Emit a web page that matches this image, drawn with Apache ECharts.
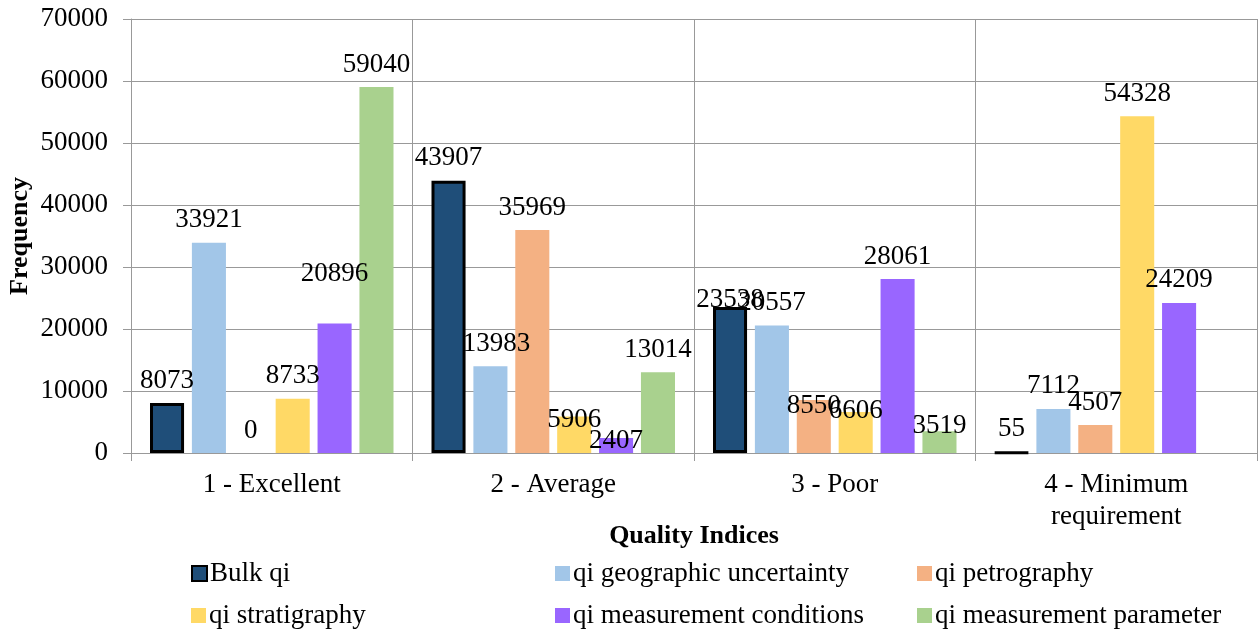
<!DOCTYPE html>
<html><head><meta charset="utf-8">
<script src="https://cdn.jsdelivr.net/npm/echarts@6/dist/echarts.min.js"></script>
<style>html,body{margin:0;padding:0;background:#fff}#c{width:1258px;height:633px}</style>
</head><body><div id="c"></div>
<script>
const categories = ['1 - Excellent', '2 - Average', '3 - Poor', '4 - Minimum\nrequirement'];
const seriesNames = ['Bulk qi', 'qi geographic uncertainty', 'qi petrography', 'qi stratigraphy', 'qi measurement conditions', 'qi measurement parameter'];
const bulkQi = [8073, 43907, 23538, 55];
const geoUncertainty = [33921, 13983, 20557, 7112];
const petrography = [0, 35969, 8550, 4507];
const stratigraphy = [8733, 5906, 6606, 54328];
const measConditions = [20896, 2407, 28061, 24209];
const measParameter = [59040, 13014, 3519, null];
const yTicks = [0, 10000, 20000, 30000, 40000, 50000, 60000, 70000];

const colors = ['#1F4E79', '#A2C6E8', '#F4B183', '#FFD966', '#9966FF', '#A9D18E'];
const values = [bulkQi, geoUncertainty, petrography, stratigraphy, measConditions, measParameter];
// label nudges (layout only) to mimic the reference's collision-avoided labels; key = series-category
const labelNudge = {
  '0-2': [0, 15], '1-1': [6, 0], '2-2': [0, 28], '3-1': [0, 26], '3-2': [0, 21],
  '4-0': [0, -27], '4-1': [0, 25], '5-2': [0, 17]
};
const font = 'Liberation Serif';
const fs = 27;

const series = seriesNames.map((name, si) => ({
  name, type: 'bar',
  barGap: '23%', barCategoryGap: '13.5%',
  itemStyle: si === 0 ? { color: colors[si], borderColor: '#000', borderWidth: 3 } : { color: colors[si] },
  label: { show: true, position: 'top', distance: 9, color: '#000', fontFamily: font, fontSize: fs },
  data: values[si].map((v, ci) => {
    const n = labelNudge[si + '-' + ci];
    return n ? { value: v, label: { offset: n } } : v;
  })
}));

const legendPos = [[191, 560], [555, 560], [917, 560], [191, 602], [555, 602], [917, 602]];
const legends = seriesNames.map((name, i) => ({
  data: [name], left: legendPos[i][0], top: legendPos[i][1], orient: 'horizontal', padding: 0,
  itemWidth: 15, itemHeight: 15, itemGap: 4, icon: 'rect', selectedMode: false,
  textStyle: { fontFamily: font, fontSize: fs, color: '#000', padding: [0, 0, 0, -2] }
}));

const chart = echarts.init(document.getElementById('c'));
chart.setOption({
  animation: false,
  color: colors,
  grid: { left: 131, right: 1, top: 19, bottom: 180, containLabel: false, outerBoundsMode: 'none' },
  legend: legends,
  xAxis: {
    type: 'category', data: categories,
    name: 'Quality Indices', nameLocation: 'middle', nameGap: 70, nameMoveOverlap: false,
    nameTextStyle: { fontFamily: font, fontSize: 26, fontWeight: 'bold', color: '#000' },
    axisLine: { lineStyle: { color: '#999', width: 1 } },
    axisTick: { show: true, length: 8, lineStyle: { color: '#999' } },
    splitLine: { show: true, lineStyle: { color: '#999', width: 1 } },
    axisLabel: { fontFamily: font, fontSize: fs, color: '#000', margin: 16, lineHeight: 32 }
  },
  yAxis: {
    type: 'value', min: 0, max: 70000, interval: 10000,
    name: 'Frequency', nameLocation: 'middle', nameGap: 98, nameRotate: 90, nameMoveOverlap: false,
    nameTextStyle: { fontFamily: font, fontSize: 26, fontWeight: 'bold', color: '#000' },
    axisLine: { show: true, lineStyle: { color: '#999', width: 1 } },
    axisTick: { show: true, length: 8, lineStyle: { color: '#999' } },
    splitLine: { show: true, lineStyle: { color: '#999', width: 1 } },
    axisLabel: { fontFamily: font, fontSize: fs, color: '#000', margin: 23,
      formatter: v => yTicks.includes(v) ? String(v) : '' }
  },
  series
});
</script></body></html>
